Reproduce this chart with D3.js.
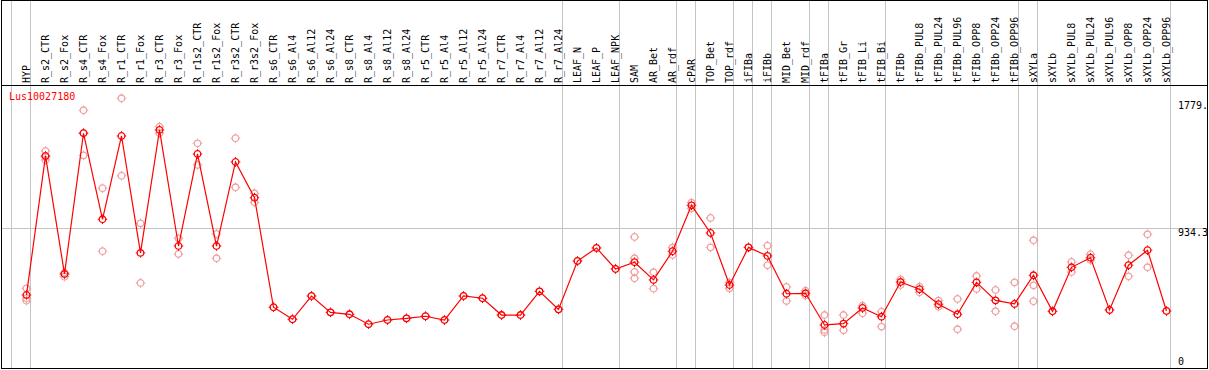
<!DOCTYPE html>
<meta charset="utf-8">
<style>
body { margin: 0; background: #fff; }
svg text { font-family: "DejaVu Sans Mono", monospace; font-size: 10px; }
</style>
<svg width="1209" height="370"></svg>
<script src="https://d3js.org/d3.v7.min.js"></script>
<script>

var title = "Lus10027180";

var categories = ["HYP","R_s2_CTR","R_s2_Fox","R_s4_CTR","R_s4_Fox","R_r1_CTR","R_r1_Fox","R_r3_CTR","R_r3_Fox",
  "R_r1s2_CTR","R_r1s2_Fox","R_r3s2_CTR","R_r3s2_Fox","R_s6_CTR","R_s6_Al4","R_s6_Al12","R_s6_Al24",
  "R_s8_CTR","R_s8_Al4","R_s8_Al12","R_s8_Al24","R_r5_CTR","R_r5_Al4","R_r5_Al12","R_r5_Al24",
  "R_r7_CTR","R_r7_Al4","R_r7_Al12","R_r7_Al24","LEAF_N","LEAF_P","LEAF_NPK","SAM","AR_Bet","AR_rdf",
  "cPAR","TOP_Bet","TOP_rdf","iFIBa","iFIBb","MID_Bet","MID_rdf","tFIBa","tFIB_Gr","tFIB_Li","tFIB_Bi",
  "tFIBb","tFIBb_PUL8","tFIBb_PUL24","tFIBb_PUL96","tFIBb_OPP8","tFIBb_OPP24","tFIBb_OPP96",
  "sXYLa","sXYLb","sXYLb_PUL8","sXYLb_PUL24","sXYLb_PUL96","sXYLb_OPP8","sXYLb_OPP24","sXYLb_OPP96"];

// mean expression per sample
var meanValues = [490,1416,630,1567,994,1549,770,1589,816,
  1429,816,1376,1138,408,328,483,374,
  361,295,323,334,348,323,483,468,
  356,356,514,394,716,803,663,708,590,781,
  1087,903,556,807,750,498,501,290,299,403,345,
  576,528,428,361,574,454,430,
  621,381,674,738,390,688,788,383];

// individual replicates
var replicateValues = [[534,468,452],[1449,1409,1389],[638,630,612],[1720,1569,1420],[1201,781],[1800,1284],[967,570],[1611,1567],[867,763],
  [1500,1356],[896,734],[1534,1207],[1167,1107],[408],[328],[483],[374],
  [361],[295],[323],[334],[348],[323],[483],[468],
  [356],[356],[514],[394],[716],[803],[663],[876,734,643,601],[641,532],[805,756],
  [1105,1067],[1003,807],[572,534],[807],[818,688],[543,450],[518,486],[356,257,241],[356,255],[418,368],[378,279],
  [594,556],[545,508],[452,412],[463,261],[616,530],[523,381],[574,281],
  [854,554,448],[381],[710,643],[761,723],[390],[754,614],[894,674],[383]];

// first sample index of each group (vertical separators)
var groupStarts = [0,1,29,32,35,36,38,39,40,42,43,46,53,54,61];

var yMax = 1868.6;
var tickValues = [0, 934.3, 1779.2];
var tickLabels = ["0", "934.3", "1779."];

var svg = d3.select("svg"),
    W = +svg.attr("width"),
    H = +svg.attr("height"),
    headerBottom = 85.5,
    plotBottom = 368.5;

var x = d3.scaleLinear().domain([0, 1]).range([11.5, 30.5]);
var px = function(i) { return x(i) + 15; };
var y = d3.scaleLinear().domain([0, yMax]).range([plotBottom, 88]);

// vertical group separators
svg.selectAll(".sep")
  .data(groupStarts)
  .enter().append("line")
  .attr("x1", function(d) { return x(d); })
  .attr("x2", function(d) { return x(d); })
  .attr("y1", 0).attr("y2", plotBottom)
  .attr("stroke", "#c4c4c4");

// mid gridline
svg.append("line")
  .attr("x1", 1.5).attr("x2", W - 1.5)
  .attr("y1", Math.round(y(934.3)) + 0.5).attr("y2", Math.round(y(934.3)) + 0.5)
  .attr("stroke", "#c4c4c4");

// frame and header line
svg.append("rect")
  .attr("x", 1.5).attr("y", 0.5)
  .attr("width", W - 3).attr("height", plotBottom - 0.5)
  .attr("fill", "none").attr("stroke", "#000");
svg.append("line")
  .attr("x1", 1.5).attr("x2", W - 1.5)
  .attr("y1", headerBottom).attr("y2", headerBottom)
  .attr("stroke", "#000");

// sample labels
svg.selectAll(".lab")
  .data(categories)
  .enter().append("text")
  .attr("transform", function(d, i) { return "translate(" + px(i) + ",83) rotate(-90)"; })
  .attr("dominant-baseline", "central")
  .attr("fill", "#000")
  .text(function(d) { return d; });

// y tick labels
svg.selectAll(".tick")
  .data(tickValues)
  .enter().append("text")
  .attr("x", 1178)
  .attr("y", function(d) { return Math.min(y(d) + 8, 365); })
  .attr("fill", "#000")
  .text(function(d, i) { return tickLabels[i]; });

svg.append("text")
  .attr("x", 9).attr("y", 100)
  .attr("fill", "#f00")
  .text(title);

function marker(g, color) {
  g.append("circle").attr("r", 3.3)
    .attr("fill", "none").attr("stroke", color).attr("stroke-width", 1.3);
  [[0, -1], [0, 1], [-1, 0], [1, 0]].forEach(function(v) {
    g.append("line")
      .attr("x1", v[0] * 3.6).attr("y1", v[1] * 3.6)
      .attr("x2", v[0] * 4.8).attr("y2", v[1] * 4.8)
      .attr("stroke", color).attr("stroke-width", 1);
  });
}

// replicates
var reps = [];
replicateValues.forEach(function(arr, i) {
  arr.forEach(function(v) { reps.push({i: i, v: v}); });
});
svg.selectAll(".rep")
  .data(reps)
  .enter().append("g")
  .attr("transform", function(d) { return "translate(" + px(d.i) + "," + y(d.v) + ")"; })
  .each(function() { marker(d3.select(this), "#f0a0a0"); });

// mean line
svg.append("path")
  .datum(meanValues)
  .attr("fill", "none")
  .attr("stroke", "#f00")
  .attr("stroke-width", 1.2)
  .attr("d", d3.line().x(function(d, i) { return px(i); }).y(function(d) { return y(d); }));

svg.selectAll(".mean")
  .data(meanValues)
  .enter().append("g")
  .attr("transform", function(d, i) { return "translate(" + px(i) + "," + y(d) + ")"; })
  .each(function() { marker(d3.select(this), "#f00"); });

</script>
